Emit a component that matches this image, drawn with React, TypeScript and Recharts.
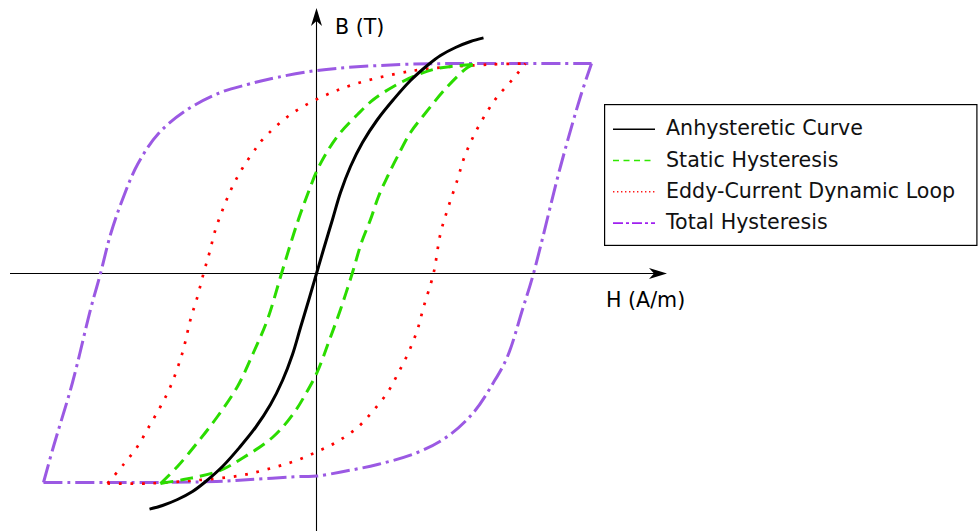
import React from 'react';
import { LineChart, Line, XAxis, YAxis, ReferenceLine, Legend } from 'recharts';

// Magnetic field strength H (A/m) and flux density B (T), one [H, B] pair per point.
// Each loop is split into its two branches so every branch is single-valued in H.

const anhysteretic: [number, number][] = [
  [-668, -1.178], [-616, -1.16], [-556, -1.13], [-496, -1.09], [-448, -1.045],
  [-376, -0.965], [-308, -0.87], [-244, -0.77], [-184, -0.655], [-136, -0.535],
  [-96, -0.405], [-64, -0.27], [-28, -0.12], [0, 0], [28, 0.12],
  [64, 0.27], [96, 0.405], [136, 0.535], [184, 0.655], [244, 0.77],
  [308, 0.87], [376, 0.965], [448, 1.045], [496, 1.09], [556, 1.13],
  [616, 1.16], [668, 1.178],
];

const staticDescending: [number, number][] = [
  [-624, -1.05], [-556, -0.965], [-476, -0.845], [-396, -0.715], [-316, -0.565],
  [-252, -0.395], [-196, -0.23], [-140, 0], [-92, 0.195], [-64, 0.3],
  [-36, 0.395], [4, 0.52], [48, 0.62], [96, 0.705], [164, 0.795],
  [228, 0.87], [308, 0.935], [388, 0.985], [484, 1.025], [628, 1.045],
];

const staticAscending: [number, number][] = [
  [-624, -1.05], [-532, -1.03], [-396, -0.99], [-292, -0.92], [-172, -0.815],
  [-92, -0.7], [-40, -0.595], [4, -0.49], [48, -0.345], [96, -0.18],
  [144, 0.005], [180, 0.155], [216, 0.27], [248, 0.385], [284, 0.485],
  [324, 0.585], [376, 0.705], [428, 0.79], [524, 0.935], [604, 1.03], [628, 1.045],
];

const eddyDescending: [number, number][] = [
  [-836, -1.05], [-772, -0.955], [-716, -0.865], [-672, -0.77], [-624, -0.665],
  [-584, -0.565], [-536, -0.395], [-504, -0.23], [-476, -0.115], [-452, 0],
  [-428, 0.105], [-404, 0.22], [-372, 0.33], [-336, 0.435], [-292, 0.535],
  [-240, 0.63], [-212, 0.675], [-104, 0.795], [16, 0.88], [148, 0.945],
  [324, 1.0], [456, 1.025], [696, 1.045], [836, 1.05],
];

const eddyAscending: [number, number][] = [
  [-836, -1.05], [-676, -1.05], [-492, -1.035], [-304, -1.01], [-172, -0.97],
  [-80, -0.935], [4, -0.89], [84, -0.84], [164, -0.77], [224, -0.69],
  [284, -0.595], [328, -0.495], [368, -0.395], [404, -0.28], [428, -0.17],
  [468, 0], [496, 0.2], [528, 0.335], [564, 0.47], [588, 0.57],
  [616, 0.655], [648, 0.735], [688, 0.82], [724, 0.885], [784, 0.97], [836, 1.05],
];

const totalDescending: [number, number][] = [
  [-1092, -1.045], [-1052, -0.865], [-976, -0.545], [-904, -0.18], [-864, 0],
  [-824, 0.195], [-776, 0.37], [-716, 0.545], [-632, 0.7], [-516, 0.82],
  [-384, 0.905], [-276, 0.945], [-196, 0.97], [0, 1.015], [336, 1.045],
  [656, 1.05], [1100, 1.05],
];

const totalAscending: [number, number][] = [
  [-1092, -1.045], [-700, -1.045], [-400, -1.04], [-264, -1.03], [-64, -1.015],
  [0, -1.013], [108, -0.99], [244, -0.955], [404, -0.895], [524, -0.815],
  [628, -0.695], [708, -0.545], [764, -0.415], [824, -0.18], [868, 0],
  [976, 0.535], [1056, 0.885], [1100, 1.05],
];

const axisNames = { h: 'H (A/m)', b: 'B (T)' };

// Visible plot window and the extent of the arrowed axes
const H_DOMAIN: [number, number] = [-1266, 2646];
const B_DOMAIN: [number, number] = [-1.2875, 1.3675];
const H_AXIS: [number, number] = [-1226, 1402];
const B_AXIS: [number, number] = [-1.2875, 1.3275];

type Series = {
  name: string;
  branches: [number, number][][];
  stroke: string;
  width: number;
  dash?: string;
  legendStroke: string;
  legendWidth: number;
  legendDash?: string;
};

const SERIES: Series[] = [
  {
    name: 'Anhysteretic Curve',
    branches: [anhysteretic],
    stroke: '#000000',
    width: 3,
    legendStroke: '#000000',
    legendWidth: 1.6,
  },
  {
    name: 'Static Hysteresis',
    branches: [staticAscending, staticDescending],
    stroke: '#2bdc00',
    width: 3,
    dash: '13 7',
    legendStroke: '#30e800',
    legendWidth: 1.6,
    legendDash: '6 4.5',
  },
  {
    name: 'Eddy-Current Dynamic Loop',
    branches: [eddyAscending, eddyDescending],
    stroke: '#ff0000',
    width: 2.7,
    dash: '2.7 8.8',
    legendStroke: '#ff1a1a',
    legendWidth: 1.4,
    legendDash: '1.4 2.6',
  },
  {
    name: 'Total Hysteresis',
    branches: [totalAscending, totalDescending],
    stroke: '#9b59e3',
    width: 3,
    dash: '19 5 3 5',
    legendStroke: '#a020f0',
    legendWidth: 1.6,
    legendDash: '10 3 3 3',
  },
];

const toPoints = (rows: [number, number][]) => rows.map(([h, b]) => ({ h, b }));

const FONT = 'DejaVu Sans, Verdana, sans-serif';

// Centripetal Catmull-Rom curve factory: passes through every point and stays
// smooth even where the points are unevenly spaced along the branch.
const centripetalCurve = (context: any) => {
  let pts: [number, number][] = [];
  const alpha = 0.5;
  const dist = (a: [number, number], b: [number, number]) => Math.hypot(b[0] - a[0], b[1] - a[1]);
  return {
    areaStart() {},
    areaEnd() {},
    lineStart() {
      pts = [];
    },
    point(x: number, y: number) {
      pts.push([+x, +y]);
    },
    lineEnd() {
      const n = pts.length;
      if (n === 0) return;
      context.moveTo(pts[0][0], pts[0][1]);
      if (n === 1) return;
      for (let i = 0; i < n - 1; i++) {
        const p0 = pts[i - 1] ?? pts[i];
        const p1 = pts[i];
        const p2 = pts[i + 1];
        const p3 = pts[i + 2] ?? pts[i + 1];
        const l01 = Math.pow(dist(p0, p1), alpha);
        const l12 = Math.pow(dist(p1, p2), alpha);
        const l23 = Math.pow(dist(p2, p3), alpha);
        const l01s = l01 * l01;
        const l12s = l12 * l12;
        const l23s = l23 * l23;
        let c1x = p1[0];
        let c1y = p1[1];
        let c2x = p2[0];
        let c2y = p2[1];
        if (l01 > 1e-9) {
          const a = 2 * l01s + 3 * l01 * l12 + l12s;
          const m = 3 * l01 * (l01 + l12);
          c1x = (p1[0] * a - p0[0] * l12s + p2[0] * l01s) / m;
          c1y = (p1[1] * a - p0[1] * l12s + p2[1] * l01s) / m;
        }
        if (l23 > 1e-9) {
          const b = 2 * l23s + 3 * l23 * l12 + l12s;
          const m = 3 * l23 * (l23 + l12);
          c2x = (p2[0] * b + p1[0] * l23s - p3[0] * l12s) / m;
          c2y = (p2[1] * b + p1[1] * l23s - p3[1] * l12s) / m;
        }
        context.bezierCurveTo(c1x, c1y, c2x, c2y, p2[0], p2[1]);
      }
    },
  };
};

// Axis line with a notched, filled arrowhead at its second end
const ArrowAxis = (props: any) => {
  const { x1, y1, x2, y2 } = props;
  const dx = x2 - x1;
  const dy = y2 - y1;
  const len = Math.hypot(dx, dy) || 1;
  const ux = dx / len;
  const uy = dy / len;
  const nx = -uy;
  const ny = ux;
  const L = 18;
  const W = 5.5;
  const notch = 5;
  const bx = x2 - ux * L;
  const by = y2 - uy * L;
  const mx = x2 - ux * (L - notch);
  const my = y2 - uy * (L - notch);
  const d = `M${x2},${y2} L${bx + nx * W},${by + ny * W} L${mx},${my} L${bx - nx * W},${by - ny * W} Z`;
  return (
    <g>
      <line x1={x1} y1={y1} x2={mx} y2={my} stroke="#000" strokeWidth={1.1} />
      <path d={d} fill="#000" />
    </g>
  );
};

const LABEL_SIZE = 20.6;

const bLabel = (props: any) => {
  const vb = props.viewBox;
  if (!vb) return null;
  return (
    <text x={vb.x + 18.5} y={vb.y + 26} fontSize={LABEL_SIZE} fontFamily={FONT} fill="#000">
      {axisNames.b}
    </text>
  );
};

const hLabel = (props: any) => {
  const vb = props.viewBox;
  if (!vb) return null;
  return (
    <text x={vb.x + vb.width - 61} y={vb.y + 33.5} fontSize={LABEL_SIZE} fontFamily={FONT} fill="#000">
      {axisNames.h}
    </text>
  );
};

const LEGEND_W = 374;
const LEGEND_H = 142;

const renderLegend = (props: any) => {
  const payload: any[] = props?.payload ?? [];
  let items = payload
    .filter((p) => p.type !== 'none')
    .map((p) => SERIES.find((s) => s.name === p.value))
    .filter(Boolean) as Series[];
  items = Array.from(new Set(items)).sort((a, b) => SERIES.indexOf(a) - SERIES.indexOf(b));
  if (items.length === 0) items = SERIES;
  return (
    <svg width={LEGEND_W} height={LEGEND_H} style={{ display: 'block' }}>
      <rect x={0.6} y={0.6} width={LEGEND_W - 1.7} height={LEGEND_H - 1.2} fill="#fff" stroke="#000" strokeWidth={1.2} />
      {items.map((s, i) => {
        const cy = 24.2 + i * 31.3;
        return (
          <g key={s.name}>
            <line
              x1={9}
              x2={51}
              y1={cy + 1}
              y2={cy + 1}
              stroke={s.legendStroke}
              strokeWidth={s.legendWidth}
              strokeDasharray={s.legendDash}
            />
            <text x={62} y={cy + 7.2} fontSize={LABEL_SIZE} fontFamily={FONT} fill="#111">
              {s.name}
            </text>
          </g>
        );
      })}
    </svg>
  );
};

export default function App() {
  const drawOrder = [...SERIES].reverse();
  return (
    <div style={{ position: 'absolute', left: 0, top: 0, width: 978, height: 531, background: '#fff' }}>
      <LineChart width={978} height={531} margin={{ top: 0, right: 0, bottom: 0, left: 0 }} style={{ fontFamily: FONT }}>
        <XAxis type="number" dataKey="h" domain={H_DOMAIN} allowDataOverflow hide />
        <YAxis type="number" dataKey="b" domain={B_DOMAIN} allowDataOverflow hide width={0} />
        <ReferenceLine
          segment={[{ x: H_AXIS[0], y: 0 }, { x: H_AXIS[1], y: 0 }]}
          shape={ArrowAxis}
          label={hLabel}
          ifOverflow="visible"
        />
        <ReferenceLine
          segment={[{ x: 0, y: B_AXIS[0] }, { x: 0, y: B_AXIS[1] }]}
          shape={ArrowAxis}
          label={bLabel}
          ifOverflow="visible"
        />
        {drawOrder.flatMap((s) =>
          s.branches.map((branch, bi) => (
            <Line
              key={`${s.name}-${bi}`}
              data={toPoints(branch)}
              dataKey="b"
              name={s.name}
              type={centripetalCurve as any}
              stroke={s.stroke}
              strokeWidth={s.width}
              strokeDasharray={s.dash}
              strokeLinecap="butt"
              strokeLinejoin="round"
              dot={false}
              activeDot={false}
              legendType={bi === 0 ? 'line' : 'none'}
              isAnimationActive={false}
            />
          ))
        )}
        <Legend
          layout="vertical"
          align="center"
          verticalAlign="middle"
          content={renderLegend}
          wrapperStyle={{ left: 604, top: 104, width: LEGEND_W, height: LEGEND_H }}
        />
      </LineChart>
    </div>
  );
}
